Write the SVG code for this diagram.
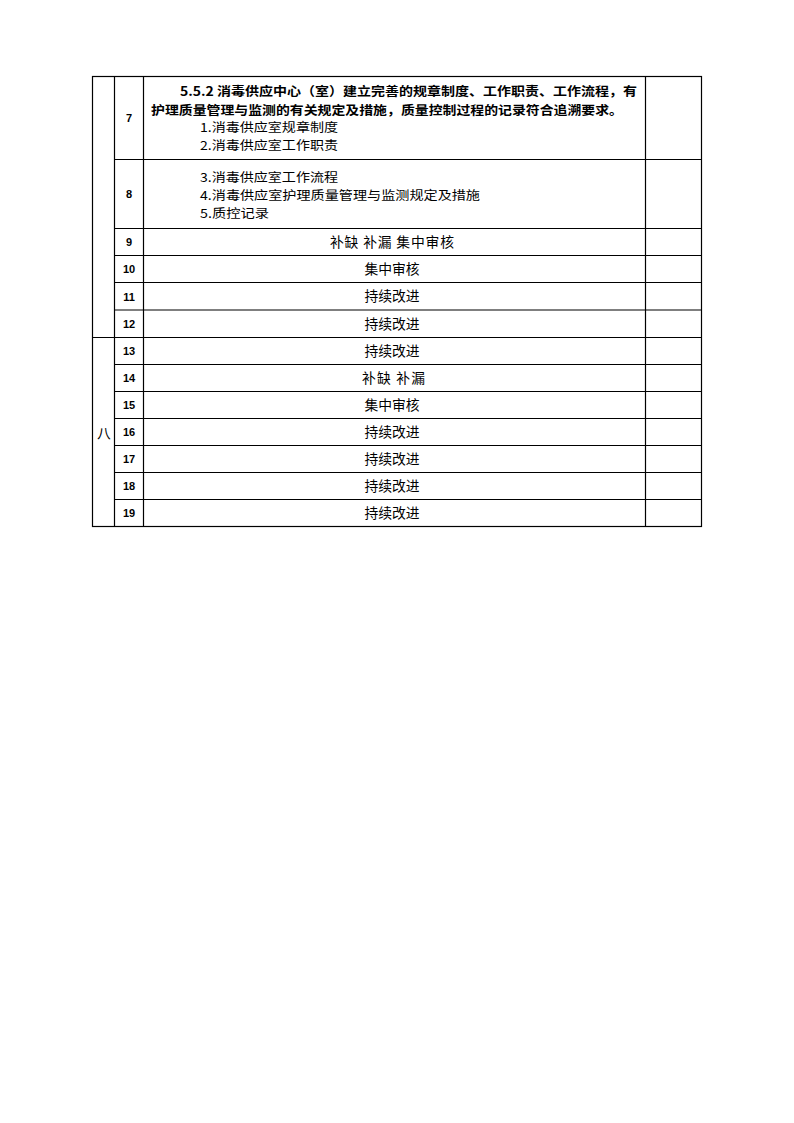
<svg xmlns="http://www.w3.org/2000/svg" width="794" height="1123" viewBox="0 0 794 1123">
<style>
.g{stroke:#000;stroke-width:1.2;fill:none}
.n{font-family:"Liberation Sans",Arial,sans-serif;font-weight:bold;font-size:11px;fill:#000;text-anchor:middle}
.t{font-family:"Noto Sans CJK SC","Liberation Sans",sans-serif;font-size:13.8px;fill:#000}
.s{font-size:12.4px}
.c{text-anchor:middle}
.b{font-weight:bold}
</style>
<rect width="794" height="1123" fill="#fff"/>
<g id="grid">
<rect class="g" x="92.5" y="76.5" width="609" height="450"/>
<line class="g" x1="114.5" y1="76.5" x2="114.5" y2="526.5"/>
<line class="g" x1="143.5" y1="76.5" x2="143.5" y2="526.5"/>
<line class="g" x1="645.5" y1="76.5" x2="645.5" y2="526.5"/>
<line class="g" x1="114.5" y1="159.5" x2="701.5" y2="159.5"/>
<line class="g" x1="114.5" y1="228.5" x2="701.5" y2="228.5"/>
<line class="g" x1="114.5" y1="255.5" x2="701.5" y2="255.5"/>
<line class="g" x1="114.5" y1="282.5" x2="701.5" y2="282.5"/>
<line class="g" x1="114.5" y1="310" x2="701.5" y2="310"/>
<line class="g" x1="92.5" y1="337.5" x2="701.5" y2="337.5"/>
<line class="g" x1="114.5" y1="364.5" x2="701.5" y2="364.5"/>
<line class="g" x1="114.5" y1="391.5" x2="701.5" y2="391.5"/>
<line class="g" x1="114.5" y1="418.5" x2="701.5" y2="418.5"/>
<line class="g" x1="114.5" y1="445.5" x2="701.5" y2="445.5"/>
<line class="g" x1="114.5" y1="472.5" x2="701.5" y2="472.5"/>
<line class="g" x1="114.5" y1="499.5" x2="701.5" y2="499.5"/>
</g>
<g id="section">
<text class="t c" x="104" y="438">八</text>
</g>
<g id="row7">
<text class="n" x="129" y="122">7</text>
<text class="t b s" x="180" y="96" textLength="457" lengthAdjust="spacingAndGlyphs">5.5.2 消毒供应中心（室）建立完善的规章制度、工作职责、工作流程，有</text>
<text class="t b s" x="151" y="114.5" textLength="472" lengthAdjust="spacingAndGlyphs">护理质量管理与监测的有关规定及措施，质量控制过程的记录符合追溯要求。</text>
<text class="t s" x="200" y="132" textLength="138" lengthAdjust="spacingAndGlyphs">1.消毒供应室规章制度</text>
<text class="t s" x="200" y="150" textLength="138" lengthAdjust="spacingAndGlyphs">2.消毒供应室工作职责</text>
</g>
<g id="row8">
<text class="n" x="129" y="198">8</text>
<text class="t s" x="200" y="181.5" textLength="138" lengthAdjust="spacingAndGlyphs">3.消毒供应室工作流程</text>
<text class="t s" x="200" y="199.5" textLength="280" lengthAdjust="spacingAndGlyphs">4.消毒供应室护理质量管理与监测规定及措施</text>
<text class="t s" x="200" y="217.5" textLength="69" lengthAdjust="spacingAndGlyphs">5.质控记录</text>
</g>
<g id="row9"><text class="n" x="129" y="246">9</text><text class="t" x="330" y="247" textLength="124" lengthAdjust="spacing">补缺 补漏 集中审核</text></g>
<g id="row10"><text class="n" x="129" y="273">10</text><text class="t c" x="392" y="274">集中审核</text></g>
<g id="row11"><text class="n" x="129" y="300.5">11</text><text class="t c" x="392" y="301">持续改进</text></g>
<g id="row12"><text class="n" x="129" y="327.5">12</text><text class="t c" x="392" y="328.5">持续改进</text></g>
<g id="row13"><text class="n" x="129" y="355">13</text><text class="t c" x="392" y="355.5">持续改进</text></g>
<g id="row14"><text class="n" x="129" y="382">14</text><text class="t" x="362" y="383" textLength="63" lengthAdjust="spacing">补缺 补漏</text></g>
<g id="row15"><text class="n" x="129" y="409">15</text><text class="t c" x="392" y="410">集中审核</text></g>
<g id="row16"><text class="n" x="129" y="436">16</text><text class="t c" x="392" y="437">持续改进</text></g>
<g id="row17"><text class="n" x="129" y="463">17</text><text class="t c" x="392" y="464">持续改进</text></g>
<g id="row18"><text class="n" x="129" y="490">18</text><text class="t c" x="392" y="491">持续改进</text></g>
<g id="row19"><text class="n" x="129" y="517">19</text><text class="t c" x="392" y="518">持续改进</text></g>
</svg>
